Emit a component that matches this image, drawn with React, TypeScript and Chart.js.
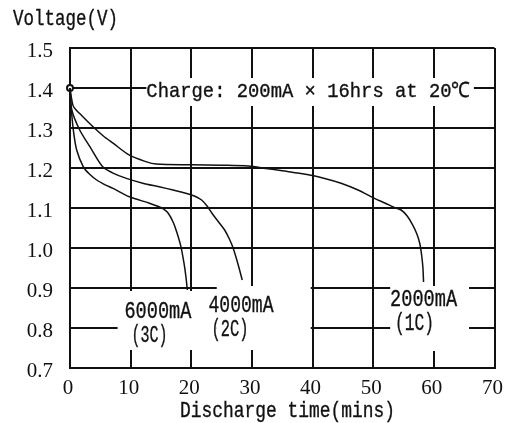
import { useEffect, useRef } from "react";
import { Chart, registerables } from "chart.js";

Chart.register(...registerables);

// ---- data ----
const xTickValues = [0, 10, 20, 30, 40, 50, 60, 70];
const yTickValues = [0.7, 0.8, 0.9, 1.0, 1.1, 1.2, 1.3, 1.4, 1.5];

const time1C = [0, 0.3, 0.6, 2, 3.8, 5.5, 7.1, 9.8, 12.5, 14.2, 20, 25, 29.4, 32.3, 35, 37.8, 39.3, 42, 44.7, 47.5, 50.2, 52, 53.4, 54.6, 55.6, 56.5, 57.2, 57.7, 58.0, 58.2, 58.3];
const volt1C = [1.4, 1.37, 1.353, 1.33, 1.303, 1.28, 1.262, 1.232, 1.216, 1.21, 1.208, 1.207, 1.205, 1.199, 1.193, 1.187, 1.183, 1.174, 1.162, 1.145, 1.124, 1.112, 1.102, 1.095, 1.08, 1.058, 1.035, 1.01, 0.98, 0.95, 0.915];

const time2C = [0, 0.3, 1.6, 3.3, 5.4, 7, 9.3, 12, 14.7, 17, 19.1, 20.5, 21.7, 22.6, 23.5, 24.5, 25.5, 26.3, 26.9, 27.7, 28.4];
const volt2C = [1.4, 1.345, 1.295, 1.253, 1.203, 1.188, 1.174, 1.162, 1.153, 1.145, 1.137, 1.13, 1.12, 1.105, 1.085, 1.065, 1.045, 1.022, 1.0, 0.96, 0.92];

const time3C = [0, 0.2, 0.55, 1.1, 2.2, 3.2, 4.4, 5.8, 7.1, 9.8, 13.1, 14.7, 15.4, 16.2, 17.0, 17.6, 18.3, 18.8, 19.1, 19.35];
const volt3C = [1.4, 1.35, 1.295, 1.245, 1.203, 1.185, 1.17, 1.158, 1.149, 1.128, 1.112, 1.103, 1.098, 1.087, 1.065, 1.04, 1.003, 0.962, 0.93, 0.895];

const startTime = [0];
const startVolt = [1.4];

const yAxisTitle = "Voltage(V)";
const xAxisTitle = "Discharge time(mins)";
const chargeNote = "Charge: 200mA × 16hrs at 20℃";
const curveLabels = ["6000mA", "(3C)", "4000mA", "(2C)", "2000mA", "(1C)"];

// ---- layout (data coordinates) ----
const whiteBoxes = [
  { x0: 12.6, x1: 66.6, y0: 1.425, y1: 1.355 },
  { x0: 7.85, x1: 24.2, y0: 0.8925, y1: 0.745 },
  { x0: 24.2, x1: 39.7, y0: 0.905, y1: 0.745 },
  { x0: 52.8, x1: 65.8, y0: 0.905, y1: 0.7425 },
];
const labelPlaces = [
  { x: 14.5, y: 0.841, w: 67 },
  { x: 13.1, y: 0.779, w: 36 },
  { x: 28.2, y: 0.854, w: 65 },
  { x: 26.4, y: 0.796, w: 37 },
  { x: 58.3, y: 0.87, w: 67 },
  { x: 56.8, y: 0.811, w: 39 },
];

const MONO = "'Liberation Mono', monospace";
const SERIF = "'Liberation Serif', serif";
const INK = "#111";

function drawFit(ctx: CanvasRenderingContext2D, text: string, cx: number, cy: number, size: number, width: number) {
  ctx.save();
  ctx.font = `${size}px ${MONO}`;
  const w = ctx.measureText(text).width;
  ctx.translate(cx, cy);
  ctx.scale(width / w, 1);
  ctx.textAlign = "center";
  ctx.textBaseline = "middle";
  ctx.fillStyle = INK;
  ctx.strokeStyle = INK;
  ctx.lineWidth = 0.35;
  ctx.fillText(text, 0, 0);
  ctx.strokeText(text, 0, 0);
  ctx.restore();
}

const annotPlugin = {
  id: "annot",
  beforeDatasetsDraw(chart: any) {
    const { ctx, scales } = chart;
    const xs = scales.x, ys = scales.y;
    ctx.save();
    ctx.fillStyle = "#fff";
    for (const b of whiteBoxes) {
      const x0 = xs.getPixelForValue(b.x0), x1 = xs.getPixelForValue(b.x1);
      const y0 = ys.getPixelForValue(b.y0), y1 = ys.getPixelForValue(b.y1);
      ctx.fillRect(x0, y0, x1 - x0, y1 - y0);
    }
    ctx.restore();
  },
  afterDatasetsDraw(chart: any) {
    const { ctx, scales } = chart;
    const xs = scales.x, ys = scales.y;
    drawFit(ctx, chargeNote, xs.getPixelForValue(39.3), ys.getPixelForValue(1.3925), 21, 324);
    curveLabels.forEach((t, i) => {
      const p = labelPlaces[i];
      drawFit(ctx, t, xs.getPixelForValue(p.x), ys.getPixelForValue(p.y), 23, p.w);
    });
    drawFit(ctx, yAxisTitle, 65.5, 19.5, 22, 105);
    drawFit(ctx, xAxisTitle, 287.5, 411.5, 22, 215);
  },
};

function pts(t: number[], v: number[]) {
  return t.map((x, i) => ({ x, y: v[i] }));
}

export default function App() {
  const ref = useRef<HTMLCanvasElement>(null);
  useEffect(() => {
    if (!ref.current) return;
    const curve = (label: string, t: number[], v: number[]) => ({
      label,
      data: pts(t, v),
      showLine: true,
      borderColor: INK,
      borderWidth: 1.5,
      pointRadius: 0,
      fill: false,
      tension: 0.3,
      clip: false as any,
    });
    const chart = new Chart(ref.current, {
      type: "scatter",
      data: {
        datasets: [
          curve("2000mA (1C)", time1C, volt1C),
          curve("4000mA (2C)", time2C, volt2C),
          curve("6000mA (3C)", time3C, volt3C),
          {
            label: "start",
            data: pts(startTime, startVolt),
            showLine: false,
            pointRadius: 3,
            pointBackgroundColor: "#fff",
            pointBorderColor: INK,
            pointBorderWidth: 2,
            clip: false as any,
          },
        ],
      },
      options: {
        animation: false,
        responsive: false,
        layout: { padding: { top: 48, right: 15, left: 0, bottom: 0 } },
        plugins: { legend: { display: false }, tooltip: { enabled: false } },
        scales: {
          x: {
            type: "linear",
            min: xTickValues[0],
            max: xTickValues[xTickValues.length - 1],
            afterBuildTicks: (s: any) => { s.ticks = xTickValues.map((v) => ({ value: v })); },
            ticks: {
              font: { family: SERIF, size: 21 },
              color: INK,
              padding: 8,
              labelOffset: -2,
              maxRotation: 0,
              callback: (v: any) => String(v),
            },
            grid: { color: INK, lineWidth: 2, drawTicks: false },
            border: { color: INK, width: 2 },
            afterFit: (s: any) => { s.height = 55; },
          },
          y: {
            type: "linear",
            min: yTickValues[0],
            max: yTickValues[yTickValues.length - 1],
            afterBuildTicks: (s: any) => { s.ticks = yTickValues.map((v) => ({ value: v })); },
            ticks: {
              font: { family: SERIF, size: 21 },
              color: INK,
              padding: 17,
              labelOffset: 3,
              callback: (v: any) => Number(v).toFixed(1),
            },
            grid: { color: INK, lineWidth: 2, drawTicks: false },
            border: { color: INK, width: 2 },
            afterFit: (s: any) => { s.width = 70; },
          },
        },
      },
      plugins: [annotPlugin],
    });
    return () => chart.destroy();
  }, []);
  return (
    <div style={{ position: "fixed", left: 0, top: 0, width: 513, height: 423, background: "#fff" }}>
      <canvas ref={ref} width={513} height={423} style={{ width: 513, height: 423, display: "block" }} />
    </div>
  );
}
